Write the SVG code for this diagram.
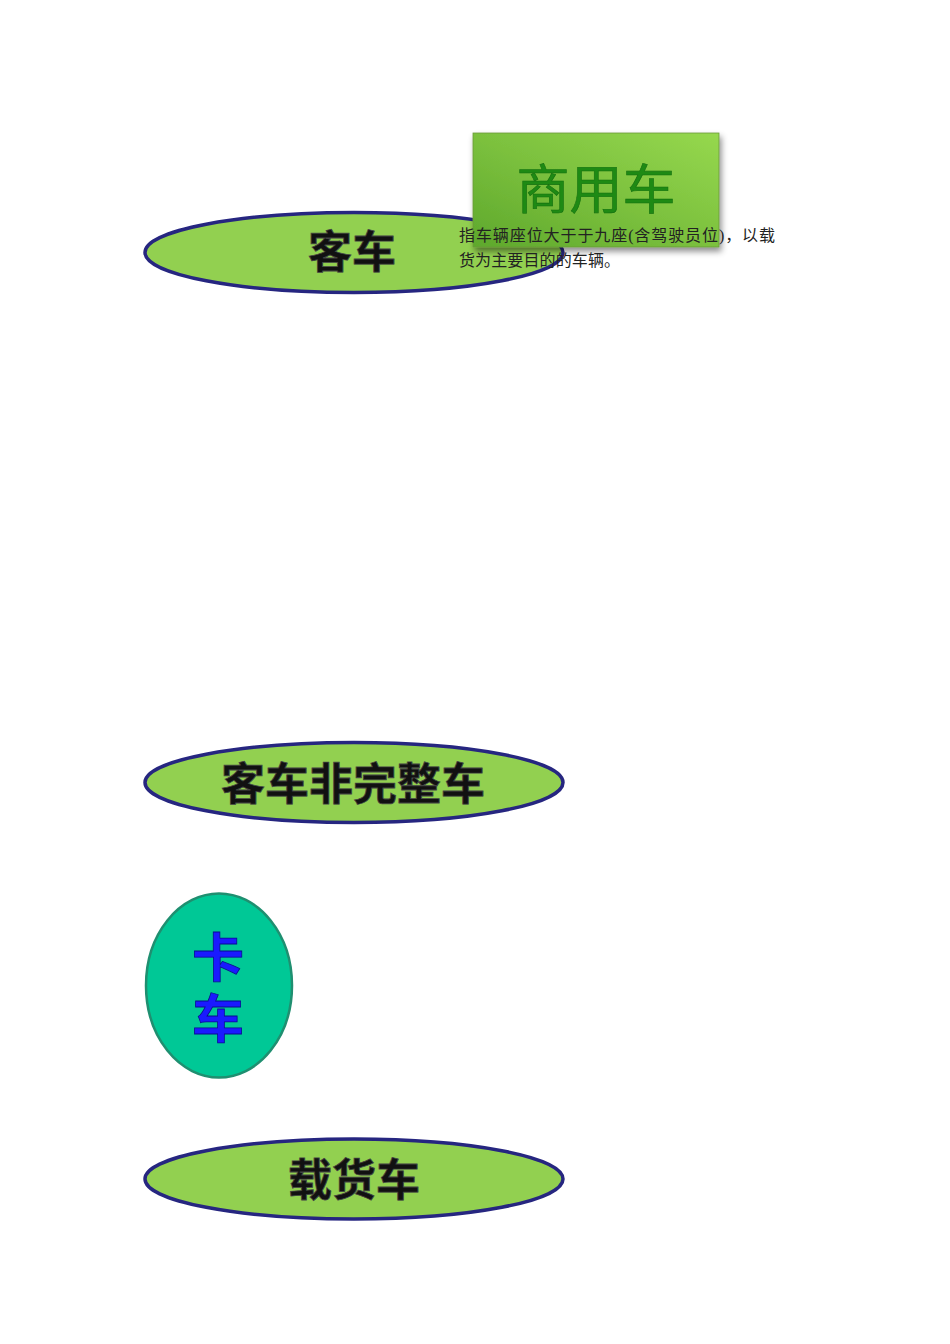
<svg xmlns="http://www.w3.org/2000/svg" width="950" height="1344" viewBox="0 0 950 1344">
<style>
.ov{fill:#92d050;stroke:#262680;stroke-width:3.5}
.big{font-family:"Noto Sans CJK SC","Noto Sans CJK JP",sans-serif;font-weight:bold;font-size:44px;fill:#111;stroke:#444;stroke-width:0.8;text-anchor:middle}
.body{font-family:"Liberation Serif","Noto Sans CJK SC",serif;font-size:16px;fill:#222}
.ka{font-family:"Noto Sans CJK SC","Noto Sans CJK JP",sans-serif;font-weight:bold;font-size:52px;fill:#1a1aff;stroke:#0a0a90;stroke-width:0.8;text-anchor:middle;writing-mode:vertical-rl;letter-spacing:9px}
</style>
<defs>
<linearGradient id="g" x1="0" y1="1" x2="1" y2="0">
<stop offset="0" stop-color="#5ea82c"/>
<stop offset="0.5" stop-color="#7cc13e"/>
<stop offset="1" stop-color="#96d84e"/>
</linearGradient>
<filter id="sh" x="-10%" y="-10%" width="125%" height="130%">
<feDropShadow dx="2" dy="4" stdDeviation="3" flood-color="#000" flood-opacity="0.45"/>
</filter>
</defs>
<g id="node-keche">
<ellipse class="ov" cx="354" cy="252.5" rx="209" ry="40"/>
<text class="big" x="352" y="268">客车</text>
</g>
<g id="node-shangyongche">
<rect x="473" y="133" width="246" height="114" fill="url(#g)" stroke="#6a9a3a" stroke-width="0.8" filter="url(#sh)"/>
<text x="596" y="209" font-family="Noto Sans CJK SC,Noto Sans CJK JP,sans-serif" font-size="53" fill="#1e8a14" stroke="#157010" stroke-width="0.6" text-anchor="middle">商用车</text>
<text class="body" x="459" y="241" textLength="316" lengthAdjust="spacing">指车辆座位大于于九座(含驾驶员位)，以载</text>
<text class="body" x="459" y="266" textLength="161" lengthAdjust="spacing">货为主要目的的车辆。</text>
</g>
<g id="node-keche-fei">
<ellipse class="ov" cx="354" cy="782.5" rx="209" ry="40"/>
<text class="big" x="353" y="800">客车非完整车</text>
</g>
<g id="node-kache">
<ellipse cx="219" cy="985.5" rx="73" ry="92" fill="#00c896" stroke="#1f8f70" stroke-width="2.5"/>
<text class="ka" x="218" y="992">卡车</text>
</g>
<g id="node-zaihuoche">
<ellipse class="ov" cx="354" cy="1179" rx="209" ry="40"/>
<text class="big" x="354" y="1196">载货车</text>
</g>
<g id="connectors"></g>
</svg>
